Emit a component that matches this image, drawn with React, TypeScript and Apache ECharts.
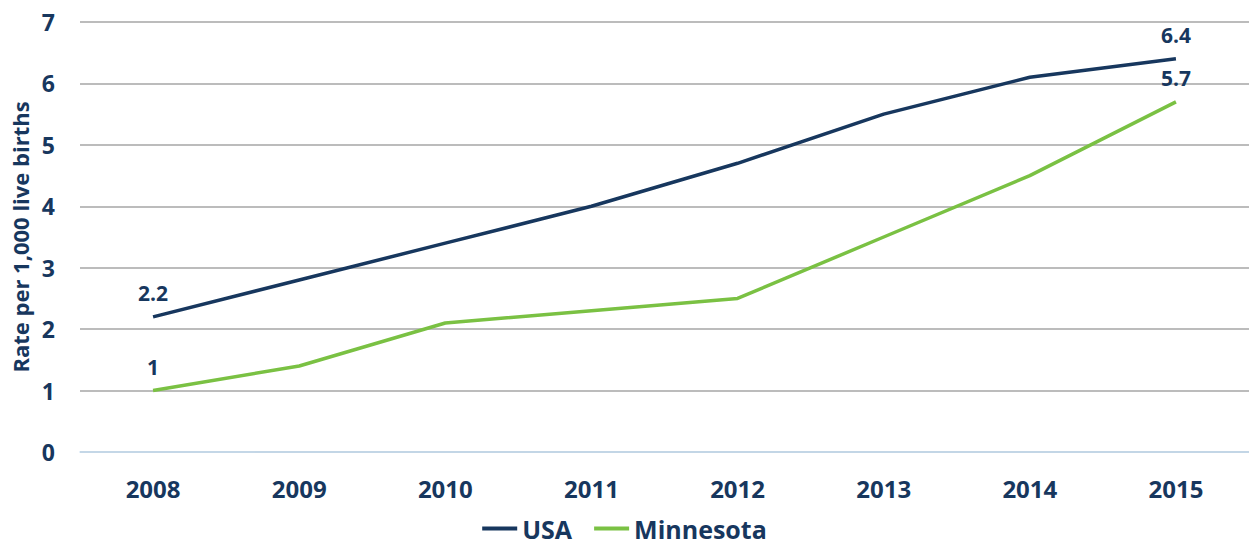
import React, { useEffect, useRef } from "react";
import * as echarts from "echarts";

const years = ["2008", "2009", "2010", "2011", "2012", "2013", "2014", "2015"];
const usa = [2.2, 2.8, 3.4, 4.0, 4.7, 5.5, 6.1, 6.4];
const minnesota = [1.0, 1.4, 2.1, 2.3, 2.5, 3.5, 4.5, 5.7];
const yTicks = [0, 1, 2, 3, 4, 5, 6, 7];

const NAVY = "#17375e";
const GREEN = "#7ac143";
const FONT = "Open Sans";

function labelEnds(vals: number[]) {
  return vals.map((v, i) =>
    i === 0 || i === vals.length - 1 ? { value: v, label: { show: true } } : v
  );
}

const labelStyle = {
  show: false,
  position: "top",
  distance: 13,
  color: NAVY,
  fontSize: 21,
  fontWeight: "bold",
  fontFamily: FONT,
};

export default function App() {
  const ref = useRef<HTMLDivElement>(null);
  useEffect(() => {
    const chart = echarts.init(ref.current!, undefined, { renderer: "svg" });
    chart.setOption({
      animation: false,
      textStyle: { fontFamily: FONT },
      grid: {
        left: 80,
        right: 0,
        top: 22,
        bottom: 94,
        containLabel: false,
        outerBoundsMode: "none",
      },
      legend: {
        bottom: 0,
        left: "center",
        icon: "rect",
        itemWidth: 35,
        itemHeight: 4,
        itemGap: 22,
        textStyle: { color: NAVY, fontSize: 25, fontWeight: "bold", fontFamily: FONT },
        data: ["USA", "Minnesota"],
      },
      xAxis: {
        type: "category",
        data: years,
        boundaryGap: true,
        axisLine: { show: true, lineStyle: { color: "#c6dff5", width: 1.5 } },
        axisTick: { show: false },
        axisLabel: {
          color: NAVY,
          fontSize: 24,
          fontWeight: "bold",
          margin: 24,
          fontFamily: FONT,
        },
      },
      yAxis: {
        type: "value",
        min: yTicks[0],
        max: yTicks[yTicks.length - 1],
        interval: 1,
        name: "Rate per 1,000 live births",
        nameLocation: "middle",
        nameGap: 47,
        nameTextStyle: { color: NAVY, fontSize: 22, fontWeight: "bold", fontFamily: FONT },
        axisLine: { show: false },
        axisTick: { show: false },
        axisLabel: {
          color: NAVY,
          fontSize: 23,
          fontWeight: "bold",
          margin: 25,
          fontFamily: FONT,
        },
        splitLine: { lineStyle: { color: "#a6a6a6", width: 1.5 } },
      },
      series: [
        {
          name: "USA",
          type: "line",
          data: labelEnds(usa),
          symbol: "circle",
          symbolSize: 0,
          showSymbol: true,
          lineStyle: { color: NAVY, width: 3.5 },
          itemStyle: { color: NAVY },
          label: labelStyle,
        },
        {
          name: "Minnesota",
          type: "line",
          data: labelEnds(minnesota),
          symbol: "circle",
          symbolSize: 0,
          showSymbol: true,
          lineStyle: { color: GREEN, width: 3.5 },
          itemStyle: { color: GREEN },
          label: labelStyle,
        },
      ],
    });
    return () => chart.dispose();
  }, []);
  return (
    <div
      ref={ref}
      style={{ position: "fixed", left: 0, top: 0, width: 1249, height: 546, background: "#fff" }}
    />
  );
}
